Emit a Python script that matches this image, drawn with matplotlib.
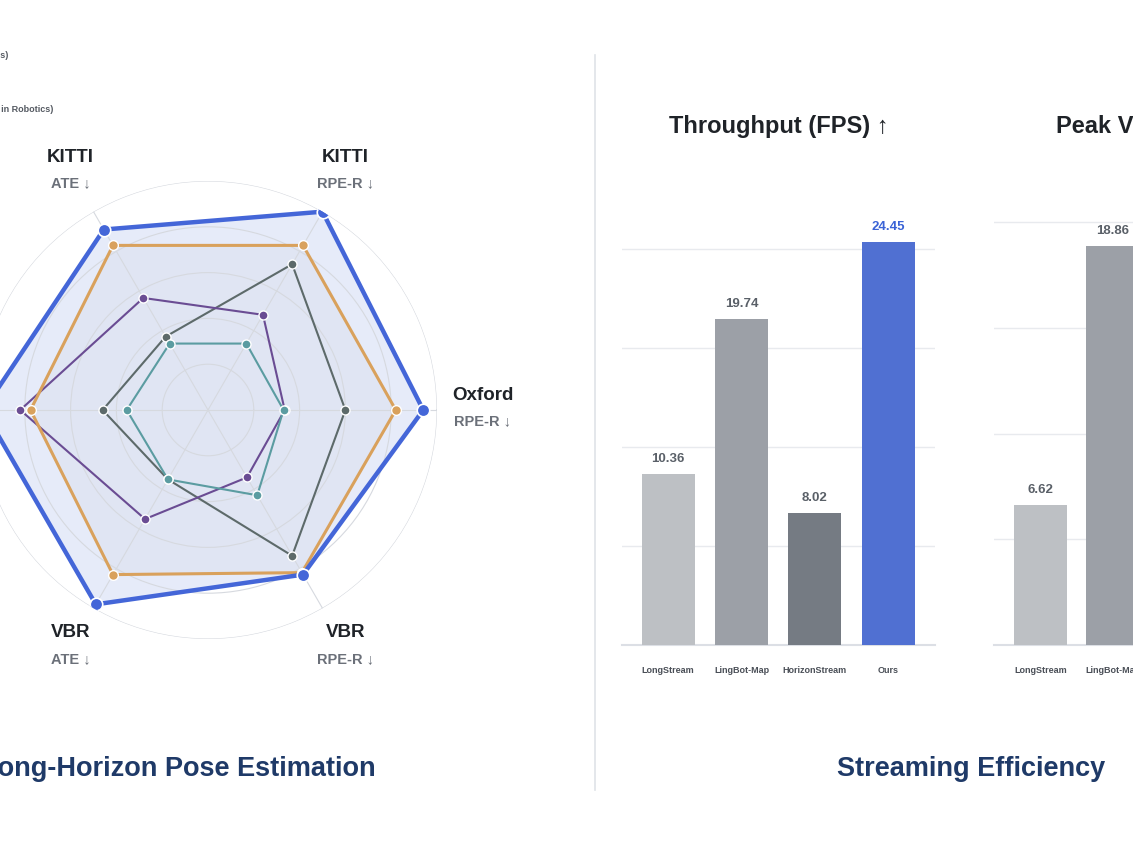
import numpy as np
import matplotlib
matplotlib.use("Agg")
import matplotlib.pyplot as plt

plt.rcParams['font.family'] = ['Liberation Sans', 'DejaVu Sans']

# radar data (normalised scores, outer ring = 1.0)
axis_names = ['Oxford', 'KITTI', 'KITTI', 'Oxford', 'VBR', 'VBR']
axis_metrics = ['RPE-R ↓', 'RPE-R ↓', 'ATE ↓', 'ATE ↓', 'ATE ↓', 'RPE-R ↓']
radar_series = {
    'HorizonStream': [0.33, 0.335, 0.335, 0.355, 0.35, 0.43],
    'LongStream':    [0.335, 0.48, 0.565, 0.82, 0.55, 0.34],
    'LingBot-Map':   [0.60, 0.735, 0.37, 0.46, 0.35, 0.735],
    'Baseline':      [0.82, 0.83, 0.83, 0.775, 0.83, 0.82],
    'Ours':          [0.94, 1.0, 0.91, 0.98, 0.98, 0.83],
}
radar_colors = {
    'HorizonStream': '#5b9ca1',
    'LongStream': '#6a4c93',
    'LingBot-Map': '#5d6a6a',
    'Baseline': '#d9a15c',
    'Ours': '#4466d8',
}

# bar data
fps_methods = ['LongStream', 'LingBot-Map', 'HorizonStream', 'Ours']
fps_values = [10.36, 19.74, 8.02, 24.45]
fps_colors = ['#bdc0c4', '#9ca0a7', '#757b83', '#5070d2']

vram_methods = ['LongStream', 'LingBot-Map']
vram_values = [6.62, 18.86]
vram_colors = ['#bdc0c4', '#9ca0a7']

W, H = 1133, 850
fig = plt.figure(figsize=(W / 100, H / 100), dpi=100)


def px_box(x0, y0, x1, y1):
    # pixel box (top-left origin) -> figure fraction rect
    return [x0 / W, (H - y1) / H, (x1 - x0) / W, (y1 - y0) / H]


# ---------------- radar ----------------
cx, cy, R = 208, 410, 229
ax = fig.add_axes(px_box(cx - R, cy - R, cx + R, cy + R), projection='polar')
theta = np.deg2rad(np.arange(6) * 60)
ax.set_ylim(0, 1)
ax.set_yticks([0.2, 0.4, 0.6, 0.8, 1.0])
ax.set_xticks(theta)
ax.set_yticklabels([])
ax.set_xticklabels([])
ax.grid(color='#d6d9df', linewidth=0.8)
ax.spines['polar'].set_visible(False)
ax.set_facecolor('none')
ax.tick_params(pad=0)

closed = np.append(theta, theta[0])
for name in ['Ours', 'Baseline', 'LingBot-Map', 'LongStream', 'HorizonStream']:
    vals = radar_series[name]
    v = np.append(vals, vals[0])
    c = radar_colors[name]
    if name == 'Ours':
        ax.fill(closed, v, color=c, alpha=0.13, zorder=1)
        ax.plot(closed, v, color=c, lw=3.2, zorder=6)
        ax.plot(theta, vals, 'o', ms=9, color=c, mec='white', mew=1.2, zorder=7)
    elif name == 'Baseline':
        ax.fill(closed, v, color='#9a9cb0', alpha=0.07, zorder=1)
        ax.plot(closed, v, color=c, lw=2.2, zorder=5)
        ax.plot(theta, vals, 'o', ms=7, color=c, mec='white', mew=1, zorder=5)
    else:
        ax.plot(closed, v, color=c, lw=1.5, zorder=4)
        ax.plot(theta, vals, 'o', ms=6.5, color=c, mec='white', mew=1, zorder=5)

for t, nm, mt in zip(theta, axis_names, axis_metrics):
    ax.annotate(nm, (t, 1.2), xytext=(0, 15), textcoords='offset pixels',
                ha='center', va='center', fontsize=13.5, fontweight='bold',
                color='#1f2328', annotation_clip=False)
    ax.annotate(mt, (t, 1.2), xytext=(0, -11), textcoords='offset pixels',
                ha='center', va='center', fontsize=10.5, fontweight='bold',
                color='#6b7079', annotation_clip=False)

# legend tails peeking in from the left edge
fig.text(8 / W, 1 - 55 / H, 'KITTI (Autonomous Driving Sequences)', ha='right',
         va='center', fontsize=6.5, fontweight='bold', color='#555a62')
fig.text(53 / W, 1 - 110 / H, 'VBR (Visual Benchmark in Robotics)', ha='right',
         va='center', fontsize=6.5, fontweight='bold', color='#555a62')

fig.text(376 / W, 1 - 769 / H, 'Long-Horizon Pose Estimation', ha='right',
         va='center', fontsize=19.5, fontweight='bold', color='#1f3a68')

# divider
fig.add_artist(plt.Line2D([595 / W, 595 / W], [1 - 55 / H, 1 - 790 / H],
                          color='#dfe3e8', lw=1.2))


# ---------------- bars ----------------
def bar_panel(rect, methods, values, colors, ylim, yticks, xlim, width, title,
              highlight=None, title_x=0.5):
    bx = fig.add_axes(rect)
    x = np.arange(len(methods))
    bx.bar(x, values, width=width, color=colors, zorder=3)
    bx.set_xlim(*xlim)
    bx.set_ylim(*ylim)
    bx.set_yticks(yticks)
    bx.grid(axis='y', color='#e8eaee', lw=1, zorder=0)
    bx.set_axisbelow(True)
    for s in ['top', 'right', 'left']:
        bx.spines[s].set_visible(False)
    bx.spines['bottom'].set_color('#dcdfe5')
    bx.spines['bottom'].set_linewidth(1.5)
    bx.set_yticklabels([])
    bx.tick_params(length=0, pad=15)
    bx.set_xticks(x)
    bx.set_xticklabels(methods, fontsize=6.5, fontweight='bold', color='#4a4f57')
    for i, v in enumerate(values):
        col = '#3a63d6' if i == highlight else '#5a6068'
        bx.annotate(f'{v:.2f}', (x[i], v), xytext=(0, 9), textcoords='offset pixels',
                    ha='center', va='bottom', fontsize=9.5, fontweight='bold',
                    color=col)
    bx.set_title(title, fontsize=17, fontweight='bold', color='#1f2328', pad=0,
                 x=title_x, y=(645 - 127) / 429, va='center')
    return bx


bar_panel(px_box(622, 216, 935, 645), fps_methods, fps_values, fps_colors,
          (0, 26), [0, 6, 12, 18, 24], (-0.63, 3.64), 0.723,
          'Throughput (FPS) ↑', highlight=3)

bar_panel(px_box(994, 216, 1307, 645), vram_methods, vram_values, vram_colors,
          (0, 20.3), [0, 5, 10, 15, 20], (-0.65, 3.70), 0.736,
          'Peak VRAM (GB) ↓', title_x=0.5 + 9 / 313)

fig.text(971 / W, 1 - 769 / H, 'Streaming Efficiency', ha='center',
         va='center', fontsize=19.5, fontweight='bold', color='#1f3a68')

fig.savefig('out.png', dpi=100)
